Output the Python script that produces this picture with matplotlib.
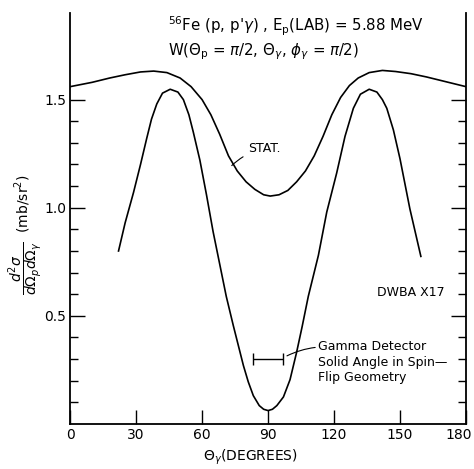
import matplotlib
matplotlib.use("Agg")
import matplotlib.pyplot as plt
import matplotlib.transforms as mtransforms
from matplotlib.ticker import FixedLocator

# curves (theta_gamma in degrees, cross section in mb/sr^2)
stat_deg = [0, 5, 10, 18, 25, 32, 38, 44, 50, 55, 60, 64, 68, 72, 76, 80, 84, 88,
            91, 95, 99, 103, 107, 111, 115, 119, 123, 127, 131, 136, 142, 148,
            155, 162, 170, 176, 180]
stat_val = [1.56, 1.57, 1.58, 1.60, 1.615, 1.628, 1.632, 1.625, 1.60, 1.56, 1.50,
            1.43, 1.34, 1.24, 1.17, 1.12, 1.085, 1.06, 1.054, 1.06, 1.08, 1.12,
            1.17, 1.24, 1.33, 1.43, 1.51, 1.565, 1.60, 1.625, 1.635, 1.63, 1.62,
            1.605, 1.585, 1.57, 1.56]

dwba_deg = [22, 25, 28.8, 32, 34.8, 37, 39.4, 42, 45.5, 49, 51.5, 54, 56, 59, 62,
            65, 68.2, 71, 74.2, 78.8, 81, 83.3, 86, 88, 90, 92, 94, 97, 100, 103,
            105.5, 108.3, 112.9, 116.7, 121.2, 125, 128.8, 132, 136, 139.5, 142,
            144, 147, 150, 154.5, 159.5]
dwba_val = [0.80, 0.93, 1.07, 1.20, 1.32, 1.41, 1.48, 1.53, 1.548, 1.535, 1.50,
            1.43, 1.35, 1.22, 1.06, 0.89, 0.73, 0.59, 0.455, 0.27, 0.195, 0.131,
            0.085, 0.068, 0.062, 0.068, 0.085, 0.125, 0.205, 0.332, 0.45, 0.59,
            0.78, 0.98, 1.16, 1.33, 1.46, 1.525, 1.548, 1.535, 1.50, 1.46, 1.36,
            1.227, 0.995, 0.775]

# detector solid angle bar
det_center = 89.85
det_halfwidth = 6.85
det_level = 0.30

x_ticks = [0, 30, 60, 90, 120, 150, 180]
y_ticks = [0.5, 1.0, 1.5]
y_minor = [0.1, 0.2, 0.3, 0.4, 0.6, 0.7, 0.8, 0.9, 1.1, 1.2, 1.3, 1.4]

fig = plt.figure(figsize=(4.74, 4.69), dpi=100)
ax = fig.add_axes([0.148, 0.096, 0.835, 0.876])

ax.plot(stat_deg, stat_val, color="black", lw=1.2)
ax.plot(dwba_deg, dwba_val, color="black", lw=1.2)

ax.errorbar([det_center], [det_level], xerr=[det_halfwidth], fmt="none",
            ecolor="black", elinewidth=1.0, capsize=4, capthick=1.0)

ax.set_xlim(0, 180)
ax.set_ylim(0, 1.9)

ax.spines["top"].set_visible(False)
for s in ["left", "right", "bottom"]:
    ax.spines[s].set_linewidth(1.3)

ax.set_xticks(x_ticks)
ax.set_xticklabels([str(t) for t in x_ticks], fontsize=10)
ax.set_yticks(y_ticks)
ax.set_yticklabels(["0.5", "1.0", "1.5"], fontsize=10)
ax.yaxis.set_minor_locator(FixedLocator(y_minor))
ax.tick_params(axis="x", direction="in", length=10, width=1.0, pad=3)
ax.tick_params(axis="y", which="major", direction="in", length=11, width=1.0,
               right=True, pad=3)
ax.tick_params(axis="y", which="minor", direction="in", length=6, width=1.0,
               right=True)

# nudge the last x label so it stays inside the image
last = ax.get_xticklabels()[-1]
last.set_transform(last.get_transform()
                   + mtransforms.ScaledTranslation(-7 / 100, 0, fig.dpi_scale_trans))

# labels
ax.set_xlabel(r"$\Theta_\gamma$(DEGREES)", fontsize=10)
ax.xaxis.set_label_coords(0.455, -0.058)
ax.text(-0.112, 0.46, r"$\dfrac{d^2\sigma}{d\Omega_p d\Omega_\gamma}$  (mb/sr$^2$)",
        transform=ax.transAxes, rotation=90, ha="center", va="center", fontsize=10)

ax.text(44.5, 1.838, r"$^{56}$Fe (p, p'$\gamma$) , E$_\mathrm{p}$(LAB) = 5.88 MeV",
        fontsize=10.8, ha="left", va="center")
ax.text(44.5, 1.72, r"W($\Theta_\mathrm{p}$ = $\pi$/2, $\Theta_\gamma$, $\phi_\gamma$ = $\pi$/2)",
        fontsize=10.8, ha="left", va="center")

ax.annotate("STAT.", xy=(73.5, 1.195), xytext=(81, 1.273), fontsize=9,
            ha="left", va="center",
            arrowprops=dict(arrowstyle="-", color="black", lw=0.8,
                            shrinkA=2, shrinkB=0,
                            connectionstyle="arc3,rad=0.15"))

ax.text(139.5, 0.606, "DWBA X17", fontsize=9, ha="left", va="center")

ax.annotate("Gamma Detector\nSolid Angle in Spin\u2014\nFlip Geometry",
            xy=(98.6, 0.315), xytext=(112.7, 0.285), fontsize=9,
            ha="left", va="center", linespacing=1.25,
            arrowprops=dict(arrowstyle="-", color="black", lw=0.8,
                            shrinkA=0, shrinkB=0,
                            relpos=(0.02, 0.85),
                            connectionstyle="arc3,rad=0.1"))

fig.savefig("out.png", dpi=100)
